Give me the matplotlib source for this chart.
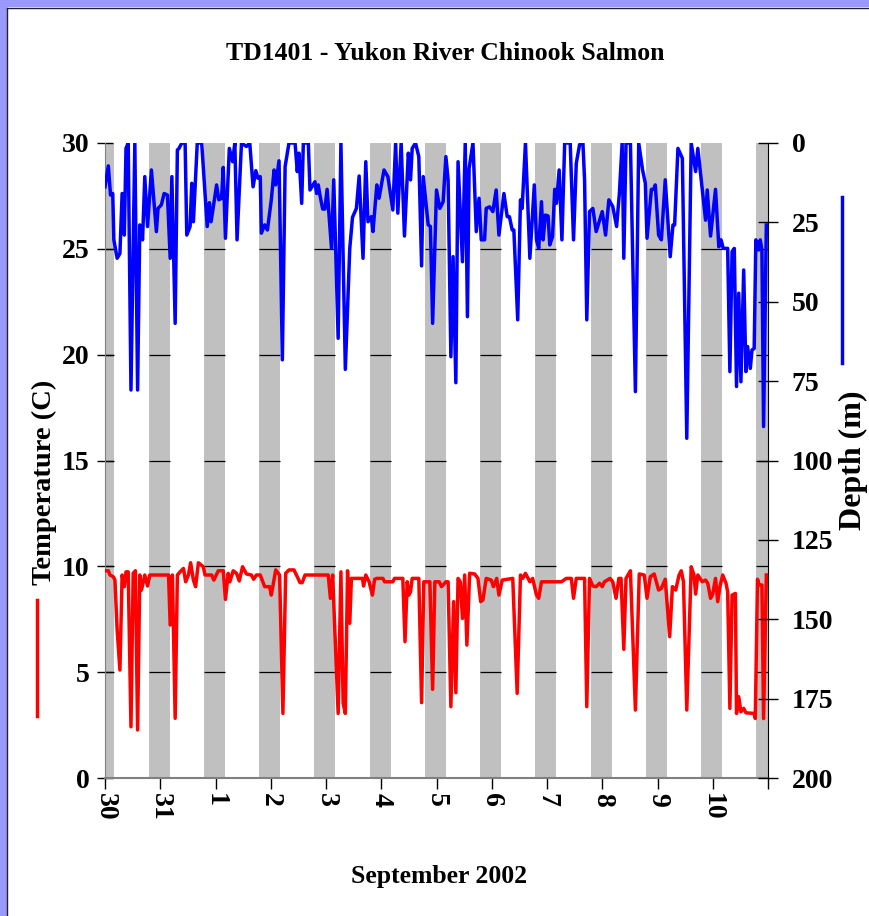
import matplotlib
matplotlib.use("Agg")
import matplotlib.pyplot as plt
from matplotlib.patches import Rectangle
from matplotlib.lines import Line2D

# time axis in days from 30 Aug 2002 00:00
depth_day = [0.00, 0.06, 0.10, 0.14, 0.16, 0.22, 0.27, 0.31, 0.35, 0.38, 0.42, 0.47, 0.54, 0.59, 0.63,
             0.68, 0.72, 0.77, 0.84, 0.93, 0.96, 1.02, 1.07, 1.13, 1.18, 1.21, 1.27, 1.31, 1.34, 1.39,
             1.45, 1.48, 1.54, 1.57, 1.60, 1.67, 1.75, 1.85, 1.89, 1.92, 2.02, 2.06, 2.11, 2.14, 2.18,
             2.25, 2.31, 2.35, 2.39, 2.47, 2.56, 2.62, 2.68, 2.73, 2.77, 2.81, 2.83, 2.89, 2.94, 3.01,
             3.06, 3.09, 3.15, 3.21, 3.26, 3.33, 3.44, 3.48, 3.51, 3.56, 3.59, 3.68, 3.71, 3.80, 3.83,
             3.86, 3.89, 3.94, 3.98, 4.02, 4.10, 4.14, 4.22, 4.27, 4.35, 4.43, 4.48, 4.55, 4.60, 4.67,
             4.72, 4.76, 4.82, 4.85, 4.92, 4.96, 5.05, 5.12, 5.21, 5.26, 5.30, 5.36, 5.42, 5.49, 5.53,
             5.56, 5.62, 5.68, 5.73, 5.76, 5.85, 5.89, 5.93, 6.00, 6.06, 6.12, 6.17, 6.21, 6.26, 6.30,
             6.35, 6.39, 6.47, 6.52, 6.56, 6.59, 6.66, 6.72, 6.77, 6.81, 6.87, 6.90, 6.96, 7.02, 7.08,
             7.13, 7.22, 7.28, 7.32, 7.37, 7.40, 7.47, 7.52, 7.55, 7.61, 7.69, 7.77, 7.81, 7.85, 7.90,
             7.93, 7.97, 8.02, 8.05, 8.10, 8.14, 8.17, 8.22, 8.27, 8.32, 8.42, 8.48, 8.53, 8.59, 8.65,
             8.68, 8.72, 8.77, 8.83, 8.89, 9.00, 9.06, 9.12, 9.19, 9.26, 9.31, 9.36, 9.39, 9.43, 9.51,
             9.60, 9.66, 9.73, 9.78, 9.81, 9.89, 9.93, 9.96, 10.02, 10.07, 10.14, 10.23, 10.28, 10.31,
             10.37, 10.45, 10.53, 10.61, 10.69, 10.73, 10.87, 10.90, 10.96, 11.05, 11.11, 11.15, 11.19,
             11.27, 11.31, 11.35, 11.39, 11.43, 11.47, 11.51, 11.56, 11.60, 11.63, 11.68, 11.71, 11.75,
             11.78, 11.83, 11.86, 11.89, 11.92, 11.97]
depth_m = [13.8, 7.2, 16.4, 15.9, 30.5, 36.3, 34.8, 15.9, 29.0, 1.7, 0, 77.8, 0, 77.8, 25.8,
           30.5, 10.6, 26.3, 8.5, 27.9, 20.6, 19.5, 15.9, 16.4, 36.3, 10.6, 56.8, 2.2, 1.7, 0,
           0, 29.0, 26.3, 12.7, 24.8, 0, 0, 26.3, 18.8, 24.8, 13.2, 17.9, 17.4, 7.7, 30.0,
           1.7, 5.9, 0, 30.5, 0, 1.1, 0, 13.8, 8.7, 11.1, 10.6, 28.4, 25.8, 27.4, 17.9,
           8.5, 13.2, 5.6, 68.3, 7.4, 0, 0, 9.0, 3.2, 19.0, 0, 0, 14.8, 12.2, 15.9,
           13.2, 16.4, 20.8, 20.8, 14.6, 33.2, 11.6, 61.5, 0, 71.3, 33.2, 23.4, 20.6, 10.4, 36.3,
           5.9, 24.8, 23.2, 27.9, 13.2, 17.4, 8.5, 10.6, 21.1, 0, 22.1, 0, 29.3, 3.2, 11.6,
           1.7, 0, 4.3, 38.7, 10.6, 25.8, 26.3, 56.8, 14.8, 20.6, 18.5, 4.3, 11.6, 67.3, 35.8,
           75.5, 5.9, 37.4, 0, 54.7, 8.0, 0, 27.9, 17.4, 30.5, 30.5, 20.6, 20.1, 21.6, 14.8,
           29.0, 15.9, 23.2, 23.2, 27.4, 27.4, 55.7, 17.9, 20.6, 0, 36.3, 13.2, 30.5, 33.2, 18.5,
           30.5, 22.7, 23.0, 32.1, 29.5, 14.6, 19.0, 8.5, 30.5, 0, 0, 30.5, 6.4, 0.5, 0,
           11.6, 55.7, 21.6, 20.6, 27.9, 21.6, 29.0, 17.9, 20.0, 26.3, 15.9, 0, 36.3, 0, 0,
           78.3, 0, 8.5, 12.7, 30.0, 14.6, 14.6, 13.2, 29.0, 30.5, 11.6, 35.8, 25.8, 25.8,
           1.7, 4.8, 93.0, 0, 9.0, 1.7, 24.3, 14.8, 29.3, 14.6, 32.7, 30.5, 33.2,
           33.2, 72.0, 34.2, 33.2, 76.7, 47.3, 75.2, 40.0, 72.0, 64.1, 71.0, 65.2, 64.7,
           30.5, 33.7, 30.5, 33.7, 89.3, 25.8]

temp_day = [0.00, 0.06, 0.09, 0.15, 0.18, 0.22, 0.27, 0.31, 0.35, 0.38, 0.42, 0.47, 0.51, 0.55, 0.59,
            0.63, 0.66, 0.72, 0.77, 0.81, 1.15, 1.18, 1.22, 1.27, 1.31, 1.36, 1.42, 1.46, 1.51, 1.55,
            1.60, 1.64, 1.69, 1.78, 1.81, 1.93, 1.97, 2.05, 2.14, 2.18, 2.23, 2.26, 2.32, 2.38, 2.43,
            2.49, 2.56, 2.65, 2.69, 2.74, 2.81, 2.89, 2.98, 3.01, 3.09, 3.16, 3.22, 3.27, 3.33, 3.42,
            3.48, 3.53, 3.57, 3.62, 4.04, 4.08, 4.12, 4.22, 4.27, 4.31, 4.35, 4.39, 4.43, 4.46, 4.66,
            4.68, 4.72, 4.78, 4.84, 4.88, 4.92, 5.03, 5.06, 5.21, 5.24, 5.39, 5.43, 5.47, 5.50, 5.53,
            5.56, 5.68, 5.73, 5.77, 5.88, 5.93, 5.97, 6.05, 6.09, 6.17, 6.21, 6.26, 6.31, 6.35, 6.39,
            6.43, 6.47, 6.51, 6.55, 6.60, 6.69, 6.75, 6.80, 6.84, 6.90, 6.99, 7.03, 7.09, 7.13, 7.19,
            7.38, 7.46, 7.52, 7.56, 7.61, 7.69, 7.74, 7.81, 7.85, 7.90, 8.26, 8.35, 8.44, 8.48, 8.53,
            8.68, 8.72, 8.77, 8.83, 8.89, 8.95, 9.00, 9.04, 9.14, 9.19, 9.25, 9.30, 9.34, 9.39, 9.43,
            9.51, 9.60, 9.67, 9.76, 9.81, 9.87, 9.94, 10.02, 10.07, 10.14, 10.22, 10.27, 10.33, 10.39,
            10.43, 10.47, 10.53, 10.61, 10.66, 10.69, 10.73, 10.81, 10.87, 10.91, 10.96, 11.00, 11.05,
            11.09, 11.13, 11.18, 11.24, 11.27, 11.31, 11.35, 11.41, 11.43, 11.47, 11.51, 11.56, 11.60,
            11.75, 11.77, 11.81, 11.84, 11.89, 11.92, 11.97]
temp_c = [9.79, 9.79, 9.59, 9.51, 9.35, 6.99, 5.10, 9.59, 9.04, 9.74, 9.74, 2.42, 9.67, 9.79, 2.27,
          9.59, 8.88, 9.59, 9.07, 9.59, 9.59, 7.23, 9.59, 2.82, 9.59, 9.74, 9.90, 9.27, 9.59, 10.17,
          9.35, 9.04, 10.17, 9.98, 9.59, 9.59, 9.35, 9.79, 9.79, 8.44, 9.67, 9.27, 9.79, 9.67, 9.31,
          9.98, 9.64, 9.59, 9.39, 9.59, 9.59, 9.04, 9.04, 8.64, 9.83, 9.59, 3.05, 9.67, 9.83, 9.83,
          9.51, 9.23, 9.23, 9.59, 9.59, 8.49, 9.59, 3.05, 9.74, 3.53, 3.05, 9.79, 7.31, 9.43, 9.43,
          9.07, 9.59, 9.27, 8.64, 9.39, 9.43, 9.43, 9.27, 9.27, 9.43, 9.43, 6.44, 9.27, 8.64, 8.80,
          9.43, 9.43, 3.56, 9.27, 9.27, 4.19, 9.27, 9.27, 9.04, 9.27, 9.27, 3.37, 8.33, 4.03, 9.43,
          9.27, 7.54, 9.59, 6.28, 9.67, 9.64, 9.43, 8.33, 8.41, 9.43, 9.35, 9.04, 9.43, 8.64, 9.35,
          9.43, 4.00, 9.59, 9.43, 9.67, 9.27, 9.43, 8.64, 8.49, 9.27, 9.27, 9.43, 9.43, 8.49, 9.43,
          9.43, 3.37, 9.43, 9.07, 9.04, 9.20, 9.04, 9.27, 9.43, 9.27, 8.49, 9.43, 9.43, 6.08, 9.43,
          9.79, 3.21, 9.64, 9.59, 8.49, 9.51, 9.64, 8.88, 8.96, 9.39, 6.68, 9.04, 8.88, 9.59,
          9.79, 9.27, 3.21, 9.98, 9.59, 8.69, 9.59, 9.27, 9.35, 9.20, 8.49, 8.69, 9.43,
          8.33, 9.04, 9.59, 9.20, 8.80, 3.29, 8.64, 8.72, 3.05, 3.84, 3.13, 3.29, 3.08,
          3.05, 2.81, 9.39, 9.12, 9.12, 2.81, 9.59]

day_labels = ['30', '31', '1', '2', '3', '4', '5', '6', '7', '8', '9', '10']
n_days = 12
dusk_hour = 19.0   # gray shading = night
dawn_hour = 4.1

FONT = ['Liberation Serif', 'DejaVu Serif']
plt.rcParams['font.family'] = FONT
plt.rcParams['font.weight'] = 'bold'

fig = plt.figure(figsize=(8.69, 9.16), dpi=100)
fig.patch.set_facecolor('white')

# lavender frame on the top and left
fig.patches.append(Rectangle((0, 0), 7/869, 1, transform=fig.transFigure,
                             facecolor='#9999ff', edgecolor='none'))
fig.patches.append(Rectangle((0, 1 - 7/916), 1, 7/916, transform=fig.transFigure,
                             facecolor='#9999ff', edgecolor='none'))
fig.lines.append(Line2D([7.5/869, 7.5/869], [0, 1 - 7.5/916], transform=fig.transFigure,
                        color='#222222', lw=1))
fig.lines.append(Line2D([7.5/869, 1], [1 - 7.5/916, 1 - 7.5/916], transform=fig.transFigure,
                        color='#222222', lw=1))

ax = fig.add_axes([105/869, 1 - 778/916, 663/869, 635/916])
ax2 = ax.twinx()

# night bands, gridlines only show through them
starts = [max(d + dusk_hour/24, 0) for d in range(-1, n_days)]
ends = [min(d + 1 + dawn_hour/24, n_days) for d in range(-1, n_days)]
for s, e in zip(starts, ends):
    ax.axvspan(s, e, color='#c0c0c0', lw=0, zorder=0)
    ax.hlines([5, 10, 15, 20, 25], s, e, color='black', lw=0.9, zorder=0.5)

ax.plot(temp_day, temp_c, color='#ff0000', lw=2.5, zorder=3, solid_joinstyle='round')
ax2.plot(depth_day, depth_m, color='#0000ff', lw=2.5, zorder=3, solid_joinstyle='round')

ax.set_xlim(0, n_days)
ax.set_ylim(0, 30)
ax2.set_ylim(200, 0)
ax.set_yticks(range(0, 31, 5))
ax2.set_yticks(range(0, 201, 25))
ax.set_xticks(range(0, n_days + 1))
ax.set_xticklabels(day_labels + [''], rotation=-90)

for a in (ax, ax2):
    for sp in a.spines.values():
        sp.set_visible(False)
ax.spines['left'].set_visible(True)
ax.spines['left'].set_color('#808080')
ax.spines['bottom'].set_visible(True)
ax.spines['bottom'].set_color('#808080')
ax.spines['bottom'].set_linewidth(1.5)
ax2.spines['right'].set_visible(True)
ax2.spines['right'].set_color('black')

ax.tick_params(axis='x', direction='out', length=8, width=1, color='black',
               labelsize=20, pad=3)
ax.tick_params(axis='y', direction='inout', length=12, width=1, color='black',
               labelsize=20, pad=5)
ax2.tick_params(axis='y', direction='inout', length=14, width=1, color='black',
                labelsize=20, pad=10)
for lab in ax.get_xticklabels() + ax.get_yticklabels() + ax2.get_yticklabels():
    lab.set_fontweight('bold')

fig.text(445/869, 1 - 54/916, 'TD1401 - Yukon River Chinook Salmon', ha='center', va='center',
         fontsize=18.5, fontweight='bold')
fig.text(439/869, 1 - 876/916, 'September 2002', ha='center', va='center',
         fontsize=18.5, fontweight='bold')
fig.text(44/869, 1 - 482/916, 'Temperature (C)', ha='center', va='center', rotation=90,
         fontsize=20.5, fontweight='bold')
fig.text(853/869, 1 - 460/916, 'Depth (m)', ha='center', va='center', rotation=90,
         fontsize=23, fontweight='bold')

# legend keys beside the axis titles
fig.lines.append(Line2D([37/869, 37/869], [1 - 600/916, 1 - 716/916], transform=fig.transFigure,
                        color='#ff0000', lw=2.5))
fig.lines.append(Line2D([842/869, 842/869], [1 - 197/916, 1 - 363/916], transform=fig.transFigure,
                        color='#0000ff', lw=2.5))

fig.savefig('out.png', dpi=100)
